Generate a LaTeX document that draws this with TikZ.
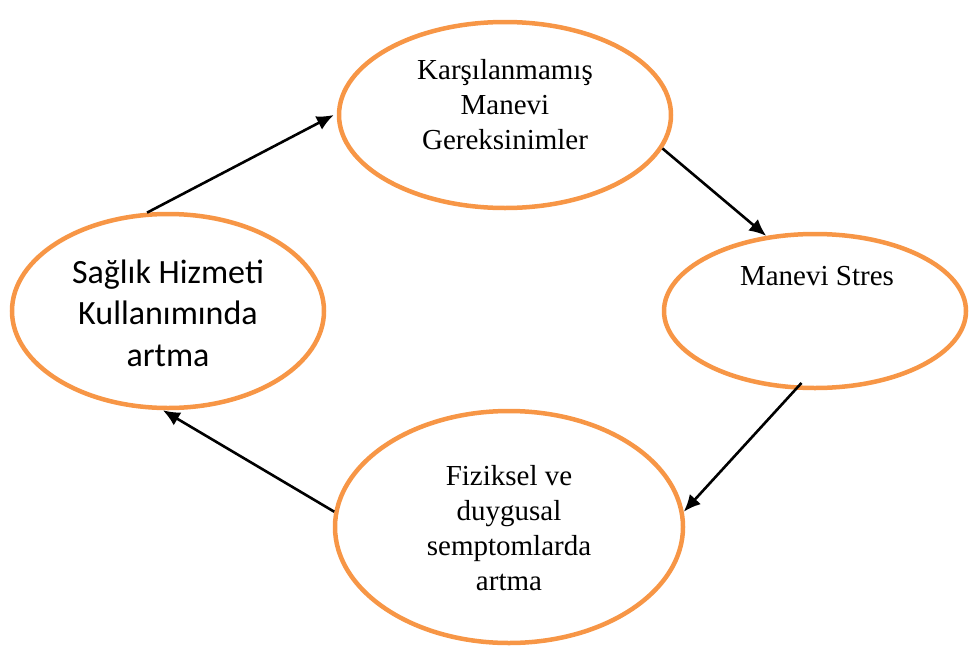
\documentclass[tikz,border=0pt]{standalone}
\usepackage{fontspec}
\setmainfont{Liberation Serif}
\newfontfamily\calib{Carlito}
\usetikzlibrary{shapes.geometric,arrows.meta}
\definecolor{orng}{HTML}{F79646}
\tikzset{
  ell/.style={ellipse, draw=orng, line width=4.5pt, inner sep=0pt, fill=white},
  lbl/.style={align=center, inner sep=0pt, font=\fontsize{29}{35}\selectfont},
  lbls/.style={align=center, inner sep=0pt, font=\calib\fontsize{34}{41.5}\selectfont},
  arr/.style={line width=2.6pt, -{Latex[length=17pt,width=15pt]}}
}
\begin{document}
\begin{tikzpicture}[x=1pt,y=-1pt]
\useasboundingbox (0,0) rectangle (969,648);
\node[ell, minimum width=332pt, minimum height=186pt] (top) at (505,115) {};
\node[ell, minimum width=302pt, minimum height=154pt] (right) at (815,311) {};
\node[ell, minimum width=348pt, minimum height=232pt] (bottom) at (509,527) {};
\node[ell, minimum width=312pt, minimum height=194pt] (left) at (168,311) {};
\node[lbl] (ttop) at (505,105) {Karşılanmamış\\Manevi\\Gereksinimler};
\node[lbl] (tright) at (817,276) {Manevi Stres};
\node[lbl] (tbottom) at (509,528) {Fiziksel ve\\duygusal\\semptomlarda\\artma};
\node[lbls] (tleft) at (168,313) {Sağlık Hizmeti\\Kullanımında\\artma};
\draw[arr] (left.102) -- ([xshift=-3pt]top.180);
\draw[arr] (top.-12) -- (right.123);
\draw[arr, shorten <=-9pt] (right.-104) -- (bottom.5);
\draw[arr] (bottom.175) -- (left.-93);
\end{tikzpicture}
\end{document}
